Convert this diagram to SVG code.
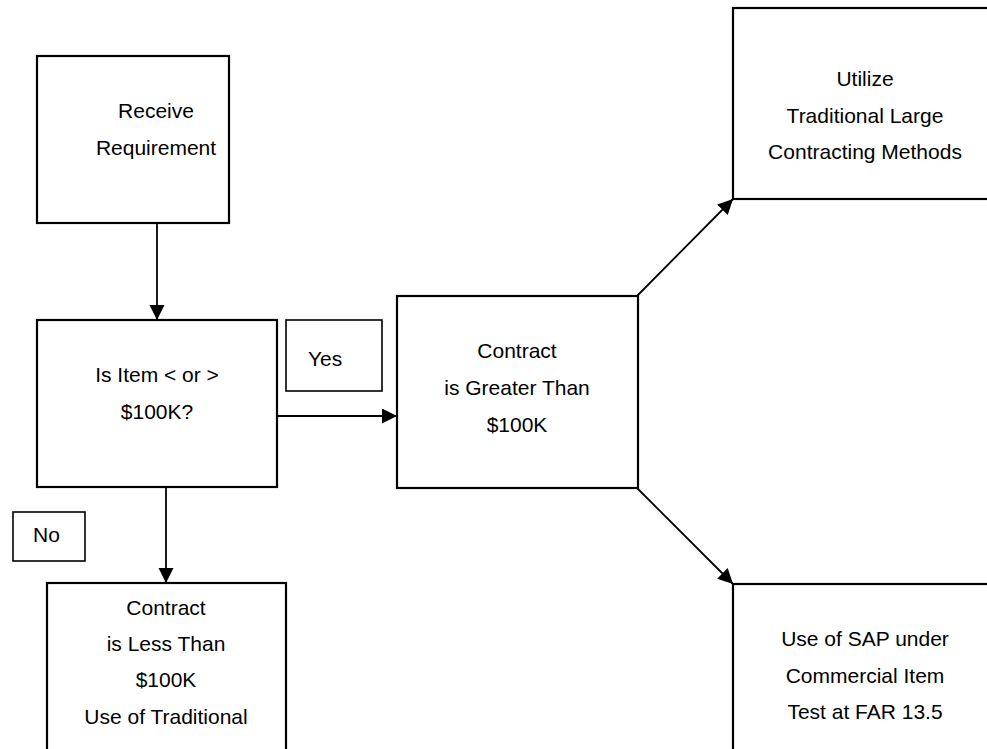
<svg xmlns="http://www.w3.org/2000/svg" width="987" height="749" viewBox="0 0 987 749">
<style>
.box{fill:#fff;stroke:#000;stroke-width:2.2}
.lbl{fill:#fff;stroke:#000;stroke-width:1.6}
.t{font-family:"Liberation Sans",Arial,sans-serif;font-size:21px;fill:#000;text-anchor:middle}
.ts{font-family:"Liberation Sans",Arial,sans-serif;font-size:21px;fill:#000}
.c{fill:none;stroke:#000;stroke-width:1.8}
</style>
<defs>
<marker id="ah" markerUnits="userSpaceOnUse" markerWidth="16" markerHeight="16" viewBox="0 0 16 16" refX="15" refY="7.5" orient="auto">
<path d="M0,0 L15,7.5 L0,15 z" fill="#000"/>
</marker>
</defs>
<rect width="987" height="749" fill="#fff"/>
<g id="connectors">
<line class="c" x1="157" y1="223" x2="157" y2="320" marker-end="url(#ah)"/>
<line class="c" x1="277" y1="416" x2="397" y2="416" marker-end="url(#ah)"/>
<line class="c" x1="166" y1="487" x2="166" y2="583" marker-end="url(#ah)"/>
<line class="c" x1="637" y1="296" x2="733" y2="199" marker-end="url(#ah)"/>
<line class="c" x1="637" y1="488" x2="733" y2="584" marker-end="url(#ah)"/>
</g>
<g id="receive">
<rect class="box" x="37" y="56" width="192" height="167"/>
<text class="t" x="156" y="118">Receive</text>
<text class="t" x="156" y="155">Requirement</text>
</g>
<g id="decision">
<rect class="box" x="37" y="320" width="240" height="167"/>
<text class="t" x="157" y="382">Is Item &lt; or &gt;</text>
<text class="t" x="157" y="419">$100K?</text>
</g>
<g id="yes">
<rect class="lbl" x="286" y="320" width="96" height="71"/>
<text class="ts" x="308" y="366">Yes</text>
</g>
<g id="no">
<rect class="lbl" x="13" y="512" width="72" height="49"/>
<text class="ts" x="33" y="542">No</text>
</g>
<g id="greater">
<rect class="box" x="397" y="296" width="241" height="192"/>
<text class="t" x="517" y="358">Contract</text>
<text class="t" x="517" y="395">is Greater Than</text>
<text class="t" x="517" y="432">$100K</text>
</g>
<g id="less">
<rect class="box" x="47" y="583" width="239" height="190"/>
<text class="t" x="166" y="615">Contract</text>
<text class="t" x="166" y="651">is Less Than</text>
<text class="t" x="166" y="687">$100K</text>
<text class="t" x="166" y="724">Use of Traditional</text>
</g>
<g id="utilize">
<rect class="box" x="733" y="8" width="270" height="191"/>
<text class="t" x="865" y="86">Utilize</text>
<text class="t" x="865" y="123">Traditional Large</text>
<text class="t" x="865" y="159">Contracting Methods</text>
</g>
<g id="sap">
<rect class="box" x="733" y="584" width="270" height="190"/>
<text class="t" x="865" y="646">Use of SAP under</text>
<text class="t" x="865" y="683">Commercial Item</text>
<text class="t" x="865" y="719">Test at FAR 13.5</text>
</g>
</svg>
